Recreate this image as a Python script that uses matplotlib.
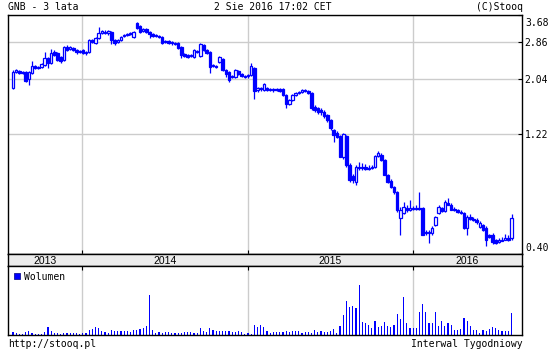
import matplotlib
matplotlib.use("Agg")
import matplotlib.pyplot as plt
import matplotlib.dates as mdates
import pandas as pd

plt.rcParams['font.family'] = ['DejaVu Sans Mono']

# weekly candles, GNB, last 3 years
dates = pd.date_range("2013-08-02", periods=158, freq="7D")

opens = [
    1.87, 2.17, 2.19, 2.15, 2.17, 2.03, 2.15, 2.29, 2.25, 2.27,
    2.31, 2.47, 2.36, 2.61, 2.59, 2.49, 2.42, 2.73, 2.68, 2.71,
    2.66, 2.61, 2.66, 2.59, 2.61, 2.92, 2.84, 2.97, 3.11, 3.14,
    3.11, 3.14, 2.92, 2.86, 2.92, 3.03, 3.06, 3.09, 3.00, 3.42,
    3.32, 3.17, 3.23, 3.14, 3.09, 3.06, 3.03, 3.00, 2.86, 2.89,
    2.86, 2.84, 2.84, 2.73, 2.56, 2.54, 2.52, 2.49, 2.64, 2.52,
    2.79, 2.66, 2.61, 2.29, 2.29, 2.38, 2.45, 2.21, 2.17, 2.09,
    2.07, 2.19, 2.13, 2.09, 2.09, 2.11, 2.25, 1.84, 1.87, 1.84,
    1.87, 1.85, 1.84, 1.85, 1.85, 1.85, 1.75, 1.61, 1.67, 1.75,
    1.79, 1.80, 1.84, 1.82, 1.79, 1.57, 1.55, 1.53, 1.50, 1.46,
    1.39, 1.27, 1.23, 1.20, 0.987, 1.20, 0.916, 0.828, 0.783, 0.899,
    0.891, 0.899, 0.883, 0.891, 0.899, 0.996, 1.005, 0.96, 0.835, 0.79,
    0.747, 0.714, 0.56, 0.587, 0.615, 0.604, 0.615, 0.61, 0.615, 0.615,
    0.492, 0.488, 0.484, 0.526, 0.587, 0.615, 0.598, 0.645, 0.633, 0.61,
    0.604, 0.593, 0.587, 0.511, 0.566, 0.555, 0.55, 0.516, 0.526, 0.511,
    0.475, 0.479, 0.457, 0.449, 0.457, 0.457, 0.462, 0.462,
]
closes = [
    2.17, 2.21, 2.15, 2.17, 2.00, 2.17, 2.29, 2.25, 2.27, 2.34,
    2.47, 2.36, 2.59, 2.54, 2.42, 2.40, 2.73, 2.66, 2.73, 2.66,
    2.61, 2.64, 2.59, 2.61, 2.92, 2.86, 2.97, 3.11, 3.17, 3.11,
    3.17, 2.92, 2.84, 2.92, 3.00, 3.06, 3.09, 3.11, 3.14, 3.26,
    3.14, 3.23, 3.14, 3.09, 3.03, 3.03, 3.00, 2.84, 2.89, 2.84,
    2.84, 2.81, 2.71, 2.54, 2.52, 2.49, 2.54, 2.66, 2.61, 2.81,
    2.66, 2.59, 2.27, 2.31, 2.27, 2.49, 2.21, 2.13, 2.01, 2.07,
    2.21, 2.13, 2.09, 2.07, 2.11, 2.29, 1.82, 1.87, 1.85, 1.94,
    1.84, 1.84, 1.85, 1.84, 1.82, 1.75, 1.61, 1.67, 1.75, 1.79,
    1.80, 1.84, 1.82, 1.79, 1.55, 1.53, 1.50, 1.50, 1.44, 1.39,
    1.29, 1.21, 1.19, 0.987, 1.22, 0.916, 0.797, 0.797, 0.899, 0.891,
    0.899, 0.883, 0.891, 0.899, 0.996, 1.02, 0.96, 0.835, 0.783, 0.747,
    0.714, 0.604, 0.604, 0.621, 0.604, 0.615, 0.61, 0.615, 0.61, 0.479,
    0.484, 0.492, 0.511, 0.566, 0.621, 0.598, 0.650, 0.633, 0.604, 0.604,
    0.593, 0.587, 0.511, 0.566, 0.555, 0.55, 0.54, 0.535, 0.502, 0.457,
    0.47, 0.449, 0.445, 0.457, 0.453, 0.466, 0.457, 0.560,
]
highs = [
    2.21, 2.23, 2.21, 2.19, 2.18, 2.19, 2.40, 2.31, 2.29, 2.36,
    2.60, 2.49, 2.68, 2.66, 2.61, 2.52, 2.76, 2.79, 2.76, 2.73,
    2.68, 2.66, 2.68, 2.64, 2.95, 2.95, 3.00, 3.29, 3.20, 3.20,
    3.20, 3.17, 2.95, 2.95, 3.03, 3.09, 3.11, 3.14, 3.17, 3.45,
    3.35, 3.26, 3.26, 3.17, 3.11, 3.09, 3.06, 3.03, 2.92, 2.92,
    2.89, 2.86, 2.86, 2.76, 2.59, 2.56, 2.56, 2.68, 2.66, 2.84,
    2.81, 2.68, 2.64, 2.34, 2.31, 2.52, 2.47, 2.23, 2.19, 2.11,
    2.23, 2.21, 2.15, 2.11, 2.13, 2.36, 2.27, 1.89, 1.89, 1.96,
    1.89, 1.87, 1.87, 1.87, 1.87, 1.87, 1.77, 1.69, 1.77, 1.80,
    1.82, 1.85, 1.85, 1.84, 1.80, 1.59, 1.57, 1.55, 1.52, 1.47,
    1.40, 1.28, 1.25, 1.21, 1.23, 1.21, 0.93, 0.84, 0.91, 0.94,
    0.93, 0.92, 0.91, 0.91, 1.00, 1.04, 1.02, 0.97, 0.84, 0.80,
    0.75, 0.72, 0.62, 0.65, 0.63, 0.662, 0.625, 0.63, 0.714, 0.62,
    0.50, 0.50, 0.52, 0.57, 0.63, 0.62, 0.66, 0.67, 0.64, 0.62,
    0.61, 0.60, 0.59, 0.575, 0.58, 0.565, 0.56, 0.545, 0.53, 0.52,
    0.48, 0.485, 0.46, 0.465, 0.47, 0.48, 0.475, 0.582,
]
lows = [
    1.85, 2.15, 2.13, 2.13, 1.97, 1.92, 2.13, 2.22, 2.23, 2.25,
    2.29, 2.25, 2.34, 2.52, 2.40, 2.36, 2.40, 2.64, 2.66, 2.64,
    2.56, 2.59, 2.56, 2.54, 2.59, 2.84, 2.81, 2.95, 3.09, 3.09,
    3.06, 2.81, 2.79, 2.84, 2.89, 3.00, 3.03, 3.06, 2.97, 3.23,
    3.11, 3.14, 3.11, 2.97, 3.00, 3.00, 2.97, 2.81, 2.84, 2.81,
    2.79, 2.79, 2.68, 2.47, 2.49, 2.47, 2.49, 2.47, 2.59, 2.49,
    2.64, 2.56, 2.15, 2.27, 2.25, 2.36, 2.19, 2.07, 1.97, 2.05,
    2.05, 2.11, 2.07, 2.05, 2.05, 2.09, 1.69, 1.80, 1.82, 1.82,
    1.82, 1.82, 1.80, 1.82, 1.80, 1.74, 1.55, 1.60, 1.65, 1.74,
    1.77, 1.79, 1.80, 1.77, 1.53, 1.50, 1.47, 1.46, 1.42, 1.36,
    1.27, 1.13, 1.17, 0.98, 0.97, 0.90, 0.78, 0.775, 0.761, 0.87,
    0.875, 0.87, 0.87, 0.88, 0.89, 0.98, 0.95, 0.83, 0.775, 0.74,
    0.70, 0.59, 0.479, 0.58, 0.59, 0.598, 0.60, 0.60, 0.60, 0.475,
    0.475, 0.445, 0.475, 0.52, 0.58, 0.59, 0.59, 0.63, 0.60, 0.598,
    0.585, 0.58, 0.505, 0.475, 0.55, 0.545, 0.53, 0.51, 0.495, 0.429,
    0.465, 0.44, 0.44, 0.443, 0.45, 0.455, 0.452, 0.455,
]
# volume, thousands of shares
volume = [
    60, 40, 20, 20, 60, 80, 40, 20, 20, 20,
    60, 160, 80, 40, 40, 20, 40, 40, 40, 40,
    40, 20, 40, 40, 100, 120, 160, 140, 80, 60,
    40, 100, 80, 80, 80, 80, 80, 60, 100, 100,
    120, 140, 180, 780, 100, 40, 60, 40, 60, 60,
    40, 40, 40, 40, 60, 60, 60, 40, 40, 140,
    80, 60, 140, 100, 80, 80, 80, 80, 80, 60,
    60, 80, 60, 20, 40, 20, 200, 160, 200, 160,
    80, 40, 60, 60, 60, 60, 80, 60, 80, 80,
    80, 40, 60, 60, 40, 100, 60, 80, 60, 60,
    80, 120, 40, 180, 400, 680, 560, 580, 540, 980,
    260, 240, 200, 140, 280, 160, 180, 260, 180, 160,
    200, 420, 320, 760, 240, 140, 140, 140, 460, 620,
    460, 240, 240, 460, 180, 280, 180, 240, 200, 100,
    100, 120, 340, 280, 180, 100, 100, 40, 100, 80,
    120, 160, 140, 100, 80, 80, 80, 440,
]

y_ticks = [0.40, 1.22, 2.04, 2.86, 3.68]
years = [2013, 2014, 2015, 2016]

blue = "#0000ff"
grid_c = "#cccccc"

x = mdates.date2num(dates)
x_lo = mdates.date2num(pd.Timestamp("2013-07-22"))
x_hi = mdates.date2num(pd.Timestamp("2016-08-28"))
year_starts = [mdates.date2num(pd.Timestamp(f"{y}-01-01")) for y in years[1:]]

fig = plt.figure(figsize=(5.6, 3.5), dpi=100)
L, W = 8 / 560, 514 / 560
ax = fig.add_axes([L, 1 - 254 / 350, W, 239 / 350])
band = fig.add_axes([L, 1 - 266 / 350, W, 12 / 350])
axv = fig.add_axes([L, 1 - 335 / 350, W, 69 / 350])

# candles
for i in range(len(x)):
    o, c = opens[i], closes[i]
    ax.vlines(x[i], lows[i], highs[i], color=blue, lw=0.9, zorder=2)
    up = c >= o
    ax.bar(x[i], abs(c - o), bottom=min(o, c), width=5.5,
           facecolor="white" if up else blue, edgecolor=blue,
           linewidth=0.9, zorder=3)

ax.set_yscale("log")
ax.set_ylim(y_ticks[0], y_ticks[-1])
ax.set_xlim(x_lo, x_hi)
ax.yaxis.set_major_locator(matplotlib.ticker.FixedLocator(y_ticks))
ax.yaxis.set_minor_locator(matplotlib.ticker.NullLocator())
inner = y_ticks[1:-1]
ax.yaxis.set_major_formatter(matplotlib.ticker.FuncFormatter(
    lambda v, p: "%.2f" % v if any(abs(v - t) < 1e-6 for t in inner) else ""))
ax.yaxis.tick_right()
ax.tick_params(axis="y", direction="in", length=3, labelsize=7, pad=2,
               width=0.8)
ax.set_xticks(year_starts)
ax.tick_params(axis="x", direction="in", length=3, labelbottom=False,
               width=0.8)
ax.grid(True, color=grid_c, lw=1)
ax.set_axisbelow(True)
# end labels of the price scale sit just inside the frame
ytr = ax.get_yaxis_transform()
ax.annotate("%.2f" % y_ticks[-1], xy=(1, y_ticks[-1]), xycoords=ytr,
            xytext=(3, -8), textcoords="offset pixels", fontsize=7,
            ha="left", va="center", annotation_clip=False)
ax.annotate("%.2f" % y_ticks[0], xy=(1, y_ticks[0]), xycoords=ytr,
            xytext=(3, 6), textcoords="offset pixels", fontsize=7,
            ha="left", va="center", annotation_clip=False)

# year band
band.set_facecolor("#ececec")
band.set_xlim(x_lo, x_hi)
band.set_xticks([])
band.set_yticks([])
edges = [x_lo] + year_starts + [x_hi]
for k, y in enumerate(years):
    mid = (edges[k] + edges[k + 1]) / 2
    band.text(mid, 0.45, str(y), ha="center", va="center", fontsize=7.5,
              family="Liberation Sans", transform=band.get_xaxis_transform())

# volume
axv.bar(x, volume, width=2.6, color=blue, linewidth=0)
axv.set_xlim(x_lo, x_hi)
axv.set_ylim(0, max(volume) * 1.39)
axv.set_yticks([])
axv.set_xticks(year_starts)
axv.xaxis.tick_top()
axv.tick_params(axis="x", direction="in", length=3, labeltop=False, width=0.8)
axv.grid(True, axis="x", color=grid_c, lw=1)
axv.set_axisbelow(True)
axv.scatter([0.018], [0.85], marker="s", s=20, color=blue, edgecolor="#000080",
            linewidth=0.5, transform=axv.transAxes, zorder=5)
axv.text(0.031, 0.84, "Wolumen", fontsize=7, va="center", transform=axv.transAxes)

for a in (ax, band, axv):
    for s in a.spines.values():
        s.set_color("black")
        s.set_linewidth(1)

fig.text(8 / 560, 1 - 7 / 350, "GNB - 3 lata", fontsize=7, va="center")
fig.text(273 / 560, 1 - 7 / 350, "2 Sie 2016 17:02 CET", fontsize=7,
         va="center", ha="center")
fig.text(523 / 560, 1 - 7 / 350, "(C)Stooq", fontsize=7, va="center", ha="right")
fig.text(8 / 560, 1 - 344 / 350, "http://stooq.pl", fontsize=7, va="center")
fig.text(523 / 560, 1 - 344 / 350, "Interwal Tygodniowy", fontsize=7,
         va="center", ha="right")

fig.savefig("out.png", dpi=100)
